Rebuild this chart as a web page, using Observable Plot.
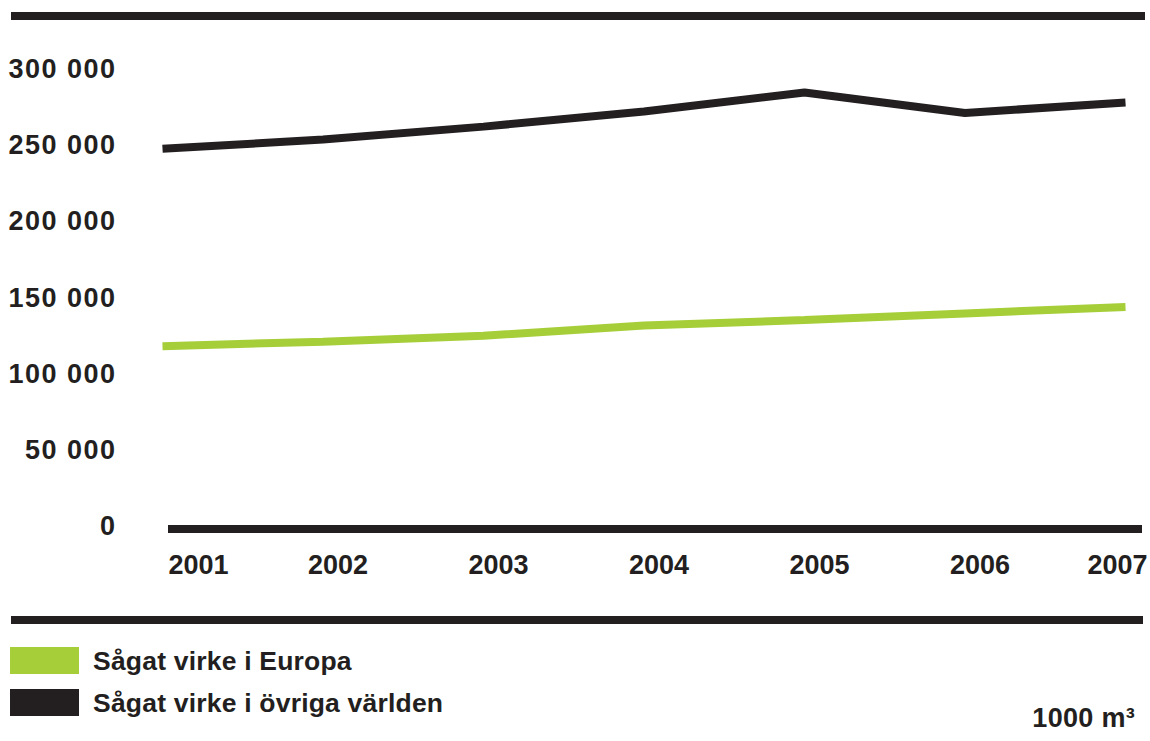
<!DOCTYPE html>
<html lang="sv">
<head>
<meta charset="utf-8">
<script src="https://cdn.jsdelivr.net/npm/d3@7"></script>
<script src="https://cdn.jsdelivr.net/npm/@observablehq/plot@0.6"></script>
<style>
  html, body { margin: 0; padding: 0; background: #fff; }
  #wrap { position: relative; width: 1150px; height: 741px; overflow: hidden;
          font-family: "Liberation Sans", Arial, Helvetica, sans-serif; font-weight: bold; color: #231f20; }
  #chart { position: absolute; left: 0; top: 0; }
  #chart g[aria-label="y-axis tick label"] { letter-spacing: 1.5px; }
  .rule { position: absolute; height: 8px; background: #231f20; }
  .swatch { position: absolute; left: 10px; width: 69px; height: 27px; }
  .legtext { position: absolute; left: 93px; font-size: 26.5px; line-height: 30px; letter-spacing: 0.2px; }
  #unit { position: absolute; right: 15px; top: 703px; font-size: 27px; line-height: 30px; letter-spacing: 0.3px; }
</style>
</head>
<body>
<div id="wrap">
  <div class="rule" style="left:11px; top:12px; width:1134px;"></div>
  <div id="chart"></div>
  <div class="rule" style="left:11px; top:616px; width:1132px;"></div>
  <div id="legend"></div>
  <div id="unit">1000 m³</div>
</div>
<script>
// Sawn timber volumes, 1000 m³
const years = [2001, 2002, 2003, 2004, 2005, 2006, 2007];
const europa = [118400, 121300, 125200, 131900, 135500, 139900, 144100];
const ovrigaVarlden = [248000, 254000, 262500, 272400, 284900, 271500, 278300];
const yTicks = [0, 50000, 100000, 150000, 200000, 250000, 300000];
const seriesNames = ["Sågat virke i Europa", "Sågat virke i övriga världen"];
const seriesColors = ["#a6ce39", "#231f20"];

const rows = [
  ...years.map((year, i) => ({year, value: europa[i], serie: seriesNames[0]})),
  ...years.map((year, i) => ({year, value: ovrigaVarlden[i], serie: seriesNames[1]}))
];

const ink = "#231f20";
const fmt = d => d3.format(",")(d).replace(/,/g, " ");
const first = years[0], last = years[years.length - 1];
const yearLabel = (filter, options) => Plot.text(years, {
  filter, x: d => d, text: d => String(d), frameAnchor: "bottom", lineAnchor: "middle",
  dy: 38.5, fill: ink, ...options
});

const chart = Plot.plot({
  width: 1150,
  height: 640,
  marginLeft: 162,
  marginRight: 25,
  marginTop: 69,
  marginBottom: 114,
  style: {fontFamily: "'Liberation Sans', Arial, sans-serif", fontWeight: "bold", fontSize: "27px", color: ink, background: "transparent"},
  x: {domain: [first, last], axis: null},
  y: {domain: [0, 300000], axis: null},
  color: {domain: seriesNames, range: seriesColors},
  marks: [
    Plot.axisY(yTicks, {tickSize: 0, tickPadding: 46, tickFormat: fmt, fill: ink, label: null}),
    Plot.ruleY([0], {stroke: ink, strokeWidth: 8, insetLeft: 6, insetRight: -17, dy: 2.5}),
    Plot.line(rows, {x: "year", y: "value", z: "serie", stroke: "serie", strokeWidth: 8,
                     strokeLinecap: "butt", strokeLinejoin: "miter"}),
    // year labels, spread from the left end of the baseline to its right end
    yearLabel(d => d === first, {dx: 6, textAnchor: "start"}),
    yearLabel(d => d !== first && d !== last, {dx: 15, textAnchor: "middle"}),
    yearLabel(d => d === last, {dx: 22, textAnchor: "end"})
  ]
});
document.getElementById("chart").appendChild(chart);

// legend below the chart
const legend = document.getElementById("legend");
seriesNames.forEach((name, i) => {
  const top = 647 + i * 42;
  const sw = document.createElement("div");
  sw.className = "swatch";
  sw.style.top = top + "px";
  sw.style.background = seriesColors[i];
  legend.appendChild(sw);
  const t = document.createElement("div");
  t.className = "legtext";
  t.style.top = (top - 1) + "px";
  t.textContent = name;
  legend.appendChild(t);
});
</script>
</body>
</html>
